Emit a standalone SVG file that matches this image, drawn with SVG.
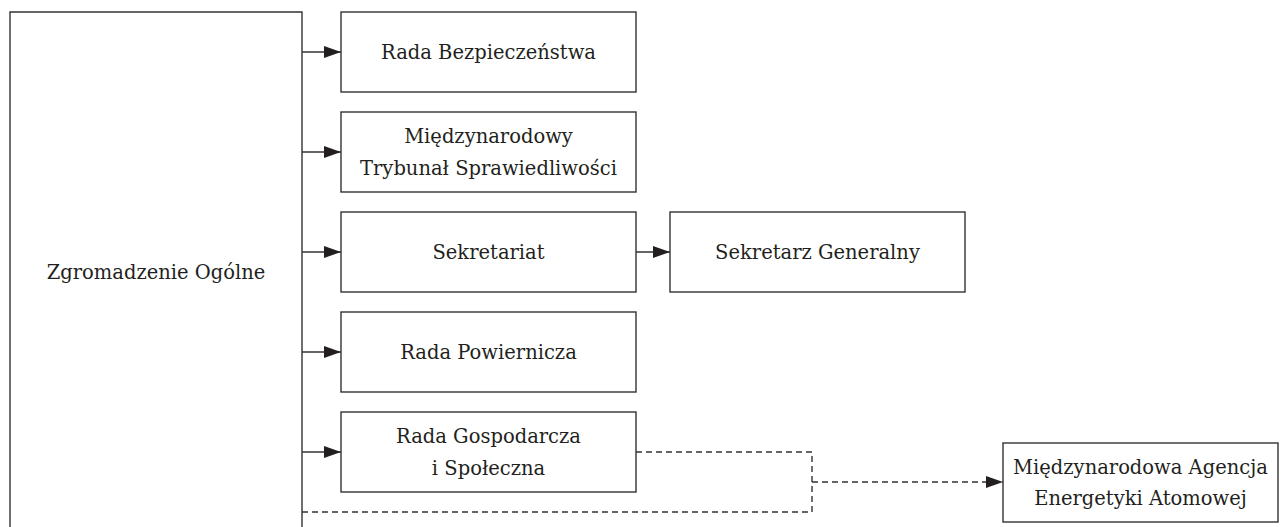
<svg xmlns="http://www.w3.org/2000/svg" width="1285" height="527" viewBox="0 0 1285 527">
<defs>
<marker id="ah" markerWidth="17" markerHeight="12" refX="17" refY="6" orient="auto" markerUnits="userSpaceOnUse">
<path d="M0,0 L17,6 L0,12 Z" fill="#231f20"/>
</marker>
<style>
.box{fill:#fff;stroke:#333;stroke-width:1.4}
.t{font-family:"DejaVu Serif","Liberation Serif",serif;font-size:19.5px;fill:#231f20;text-anchor:middle;dominant-baseline:central}
.c{fill:none;stroke:#333;stroke-width:1.4}
.d{fill:none;stroke:#333;stroke-width:1.4;stroke-dasharray:6 4}
</style>
</defs>
<rect width="1285" height="527" fill="#fff"/>
<g id="connectors">
<line class="c" x1="302" y1="52" x2="341" y2="52" marker-end="url(#ah)"/>
<line class="c" x1="302" y1="152" x2="341" y2="152" marker-end="url(#ah)"/>
<line class="c" x1="302" y1="252" x2="341" y2="252" marker-end="url(#ah)"/>
<line class="c" x1="302" y1="352" x2="341" y2="352" marker-end="url(#ah)"/>
<line class="c" x1="302" y1="452" x2="341" y2="452" marker-end="url(#ah)"/>
<line class="c" x1="636" y1="252" x2="670" y2="252" marker-end="url(#ah)"/>
<path class="d" d="M636,452 H812 V512 H302"/>
<line class="d" x1="812" y1="482" x2="1003" y2="482" marker-end="url(#ah)"/>
</g>
<g id="zgromadzenie">
<path class="box" d="M10,540 V12 H302 V540"/>
<text class="t" x="156" y="272">Zgromadzenie Ogólne</text>
</g>
<g id="rada-bezpieczenstwa">
<rect class="box" x="341" y="12" width="295" height="80"/>
<text class="t" x="488.5" y="52">Rada Bezpieczeństwa</text>
</g>
<g id="trybunal">
<rect class="box" x="341" y="112" width="295" height="80"/>
<text class="t" x="488.5" y="136">Międzynarodowy</text>
<text class="t" x="488.5" y="168">Trybunał Sprawiedliwości</text>
</g>
<g id="sekretariat">
<rect class="box" x="341" y="212" width="295" height="80"/>
<text class="t" x="488.5" y="252">Sekretariat</text>
</g>
<g id="sekretarz">
<rect class="box" x="670" y="212" width="295" height="80"/>
<text class="t" x="817.5" y="252">Sekretarz Generalny</text>
</g>
<g id="rada-powiernicza">
<rect class="box" x="341" y="312" width="295" height="80"/>
<text class="t" x="488.5" y="352">Rada Powiernicza</text>
</g>
<g id="rada-gospodarcza">
<rect class="box" x="341" y="412" width="295" height="80"/>
<text class="t" x="488.5" y="436">Rada Gospodarcza</text>
<text class="t" x="488.5" y="468">i Społeczna</text>
</g>
<g id="agencja">
<rect class="box" x="1003" y="443" width="275" height="79"/>
<text class="t" x="1140.5" y="467">Międzynarodowa Agencja</text>
<text class="t" x="1140.5" y="498">Energetyki Atomowej</text>
</g>
</svg>
